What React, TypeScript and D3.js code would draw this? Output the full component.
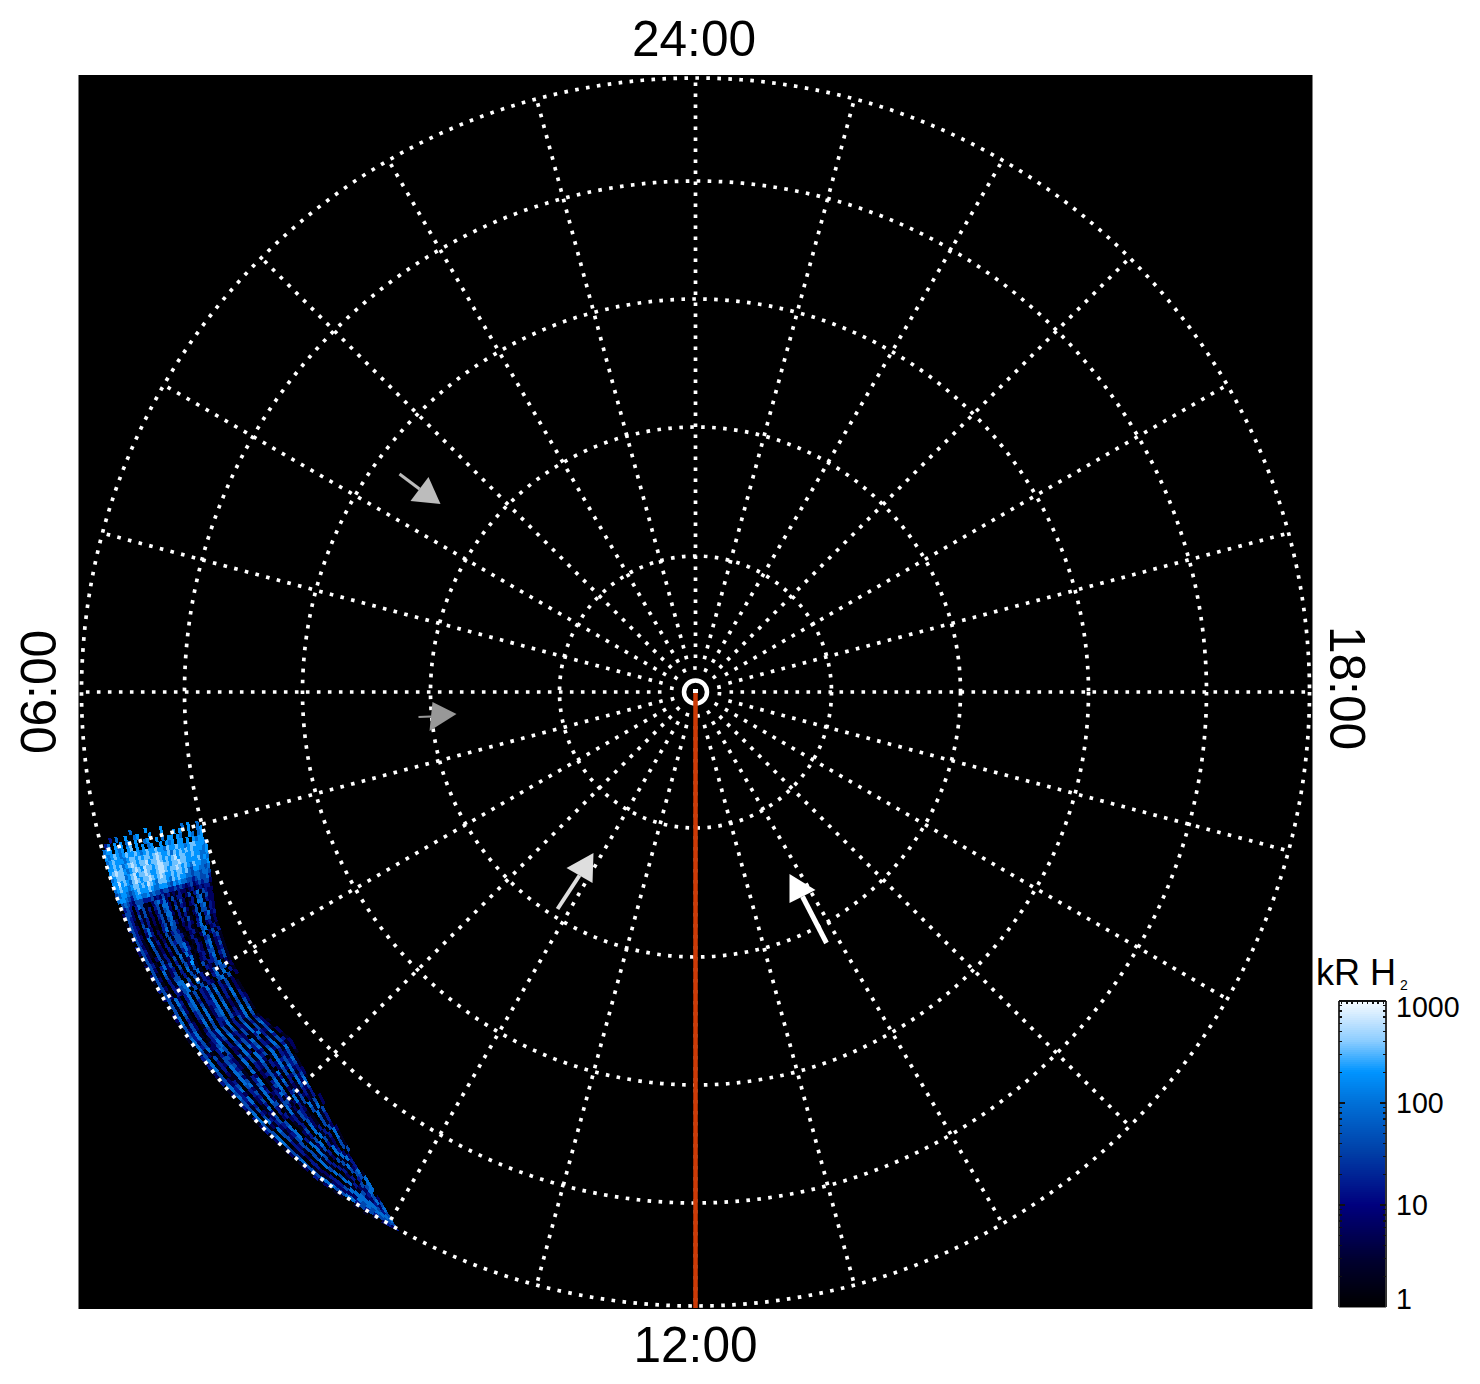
import React from "react";
import * as d3 from "d3";

// ---------- data (plot units: offsets from the pole, 1 unit = 1 pixel of the square map) ----------
const ringRadii = [24, 136, 265, 393, 511, 614];
const poleRingRadius = 11.5;
const hourSpokes = d3.range(0, 24);
const spokeInnerRadius = 34;
const dayMeridianEnd = 616;

const timeLabels = ["24:00", "12:00", "06:00", "18:00"];
const barTicks = [1, 10, 100, 1000];
const barMinor = [2, 3, 4, 5, 6, 7, 8, 9];
const barMin = 1;
const barMax = 1000;

const stopT = [0, 0.15, 0.333, 0.51, 0.667, 0.768, 0.87, 0.94, 1];
const stopColors = ["#000000", "#00002e", "#00007e", "#0040a8", "#0070d8", "#0094ff", "#8ccdff", "#c8e6ff", "#f8fcff"];

// kR value of each digit in the swath rows
const codeValues = [0, 2, 6, 15, 40, 90, 200, 350, 600, 850];

// swath outline, row index -> outer edge and inner edge
const edgeRows = [0, 12, 21, 31, 43, 53, 65, 75, 85, 93];
const outerX = [-598, -579, -563, -539, -509, -476, -433, -383, -333, -296];
const outerY = [142, 208, 251, 298, 348, 391, 438, 485, 521, 540];
const innerX = [-491, -484, -479, -464, -434, -403, -378, -351, -321, -296];
const innerY = [128, 185, 225, 268, 320, 348, 395, 448, 498, 540];

const swathRows = [
  "00000000005000060000600000050600500",
  "00030500600560006000600060600600560",
  "03506060560600560060506606500650560",
  "56606560670606056006065606606065660",
  "65676567667656766766576676656776665",
  "56766656776767767876675767676766656",
  "66767567876778677876767867766766556",
  "67877656787687767887767787766667565",
  "56777567867787667887677876765766556",
  "66867657876778767876676776754665545",
  "56766567767687657776576766554554554",
  "45665456766676556665465655443454453",
  "56654356655645443443343432342343442",
  "04543244433342324231213221231232331",
  "034303541102453520413302403514322",
  "24420314130341552031420130451422",
  "04320414120241452041320230551322",
  "1431031302034155203042014045032",
  "3432041302024145103131024044132",
  "043103520103415420314102503523",
  "243202530203514410213203504412",
  "04310512020413431023103502312",
  "3421051302041443102310450231",
  "2431041203043442013102502413",
  "042104120304145201310340341",
  "142024130204135310320451231",
  "24310413040515301320350241",
  "04203524030412510231440231",
  "2410512304042610230350341",
  "1420412403051410413340241",
  "041031440304151032145021",
  "34203155040413102414402",
  "04103245530513203515031",
  "2420324504141320451402",
  "041520351403251403140200",
  "141530350403241503240210",
  "041420451303250403150210",
  "240520450413350413050310",
  "250410340512350512040320",
  "150310341512451502140420",
  "041420251502450413150410",
  "042420150403340423250510",
  "143510241403251304250400",
  "153510342504150314140310",
  "152401342514140325131420",
  "053412352405231425041521",
  "141522451305132415241420",
  "342103540314242013532410",
  "250413140225042514031502",
  "350314430215153403141302",
  "151324320415203513251401",
  "240305421524052304150431",
  "140215321504153405240312",
  "342115410403252015031512",
  "052315210513241305132402",
  "153405413202140325342401",
  "243504513502341025143510",
  "053213214501042514253410",
  "143503415201351304052310",
  "342512315302451503241320",
  "241302405123250413052420",
  "051401305213540212152510",
  "350321504413130342142500",
  "150412303214420513032400",
  "240532403015312514231300",
  "341213402315120314021300",
  "14052340231432051402",
  "25041250131431041502",
  "0504235013042105140",
  "1403145024052104130",
  "2413240313051304130",
  "041314051405130420",
  "15020405250413052",
  "24030415140312051",
  "0413051413052041",
  "3412051302053041",
  "151204130415204",
  "25130503141520",
  "0523040315130",
  "1423051204230",
  "142415130450",
  "0525130341",
  "052512405",
  "13554245",
  "04452355",
  "1355240",
  "0445352",
  "135424",
  "04535",
  "2454",
  "345",
  "24",
  "3",
];

// aurora-arrow markers: tail, head vertices, colour
const arrowTails = [[-296, -218], [-277, 25], [-138, 217], [131, 251]];
const arrowTips = [[-255, -188], [-239, 22], [-102, 161], [94, 182]];
const arrowLeftWing = [[-285, -191], [-266, 39], [-129, 176], [120, 198]];
const arrowRightWing = [[-267, -215], [-263, 10], [-103, 191], [94, 211]];
const arrowColors = ["#bcbcbc", "#989898", "#dedede", "#ffffff"];
const arrowWidths = [3, 2, 4, 5];

// ---------- layout ----------
const W = 1480;
const H = 1384;
const mapLeft = 78.5;
const mapTop = 75;
const mapSize = 1234;
const barLeft = 1339;
const barRight = 1386;

const x = d3.scaleLinear().domain([-617, 617]).range([mapLeft, mapLeft + mapSize]);
const y = d3.scaleLinear().domain([-617, 617]).range([mapTop, mapTop + mapSize]);
const len = (v: number) => x(v) - x(0);

const barY = d3.scaleLog().domain([barMin, barMax]).range([1307, 1001]);
const tOf = d3.scaleLog().domain([barMin, barMax]).range([0, 1]).clamp(true);
const ramp = d3.scaleLinear<string>().domain(stopT).range(stopColors).interpolate(d3.interpolateRgb);
const colorOf = (v: number) => ramp(tOf(v));

const rowOX = d3.scaleLinear().domain(edgeRows).range(outerX);
const rowOY = d3.scaleLinear().domain(edgeRows).range(outerY);
const rowIX = d3.scaleLinear().domain(edgeRows).range(innerX);
const rowIY = d3.scaleLinear().domain(edgeRows).range(innerY);

function swathPaths() {
  const paths = codeValues.map(() => d3.path());
  swathRows.forEach((row, r) => {
    const n = row.length;
    for (let i = 0; i < n; i++) {
      const code = +row[i];
      if (!code) continue;
      const at = (rr: number, t: number): [number, number] => [
        x(rowOX(rr) + (rowIX(rr) - rowOX(rr)) * t),
        y(rowOY(rr) + (rowIY(rr) - rowOY(rr)) * t),
      ];
      const a = at(r, i / n);
      const b = at(r, (i + 1) / n);
      const c = at(r + 1, (i + 1) / n);
      const d = at(r + 1, i / n);
      const p = paths[code];
      p.moveTo(a[0], a[1]);
      p.lineTo(b[0], b[1]);
      p.lineTo(c[0], c[1]);
      p.lineTo(d[0], d[1]);
      p.closePath();
    }
  });
  return paths.map((p, i) => ({ d: p.toString(), fill: colorOf(codeValues[i]), code: i })).filter((p) => p.code > 0);
}

const barSteps = d3.range(0, 153).map((i) => barMin * Math.pow(barMax / barMin, i / 153));
const FONT = "'Liberation Sans', Arial, Helvetica, sans-serif";
const dots = { stroke: "#fff", strokeWidth: 3.7, strokeDasharray: "3.6 7.4", fill: "none" };

export default function App() {
  const lineSeg = d3.line();
  const hourAngle = (h: number) => (h / 24) * 2 * Math.PI;
  const minorTicks = barTicks.slice(0, -1).flatMap((d) => barMinor.map((m) => d * m));
  const topTicks = d3.range(0, 9);
  return (
    <svg width={W} height={H} style={{ position: "absolute", left: 0, top: 0, background: "#fff" }} fontFamily={FONT}>
      <rect x={x(-617)} y={y(-617)} width={mapSize} height={mapSize} fill="#000" />

      <g shapeRendering="crispEdges">
        {swathPaths().map((p) => (
          <path key={p.code} d={p.d} fill={p.fill} />
        ))}
      </g>

      {ringRadii.map((r) => (
        <circle key={r} cx={x(0)} cy={y(0)} r={len(r)} {...dots} />
      ))}
      {hourSpokes.map((h) => {
        const a = hourAngle(h);
        const s = Math.sin(a);
        const c = Math.cos(a);
        return (
          <path
            key={h}
            d={lineSeg([
              [x(spokeInnerRadius * s), y(-spokeInnerRadius * c)],
              [x(ringRadii[5] * s), y(-ringRadii[5] * c)],
            ]) as string}
            {...dots}
          />
        );
      })}
      <circle cx={x(0)} cy={y(0)} r={len(poleRingRadius)} fill="none" stroke="#fff" strokeWidth={4.5} />
      <line x1={x(0)} x2={x(0)} y1={y(0)} y2={y(dayMeridianEnd)} stroke="#cc3a06" strokeWidth={4.5} />
      <rect x={x(0) - 2.5} y={y(0) - 3} width={5} height={4} fill="#fff" />

      {arrowTails.map((t, i) => {
        const tip = arrowTips[i];
        const l = arrowLeftWing[i];
        const rw = arrowRightWing[i];
        const base: [number, number] = [(l[0] + rw[0]) / 2, (l[1] + rw[1]) / 2];
        return (
          <g key={i}>
            <line x1={x(t[0])} y1={y(t[1])} x2={x(base[0])} y2={y(base[1])} stroke={arrowColors[i]} strokeWidth={arrowWidths[i]} />
            <path
              d={(lineSeg([tip, l, rw].map((p) => [x(p[0]), y(p[1])] as [number, number])) as string) + "Z"}
              fill={arrowColors[i]}
            />
          </g>
        );
      })}

      <g fontSize={49.6} fill="#000" textAnchor="middle">
        <text x={694} y={56}>{timeLabels[0]}</text>
        <text x={695.5} y={1362}>{timeLabels[1]}</text>
        <text transform="translate(56,692) rotate(-90)">{timeLabels[2]}</text>
        <text transform="translate(1330,688) rotate(90)">{timeLabels[3]}</text>
      </g>

      <g shapeRendering="crispEdges">
        {barSteps.map((v, i) => (
          <rect
            key={i}
            x={barLeft}
            width={barRight - barLeft}
            y={barY(v * Math.pow(barMax / barMin, 1 / 153))}
            height={barY(v) - barY(v * Math.pow(barMax / barMin, 1 / 153)) + 1}
            fill={colorOf(v)}
          />
        ))}
        <line x1={barLeft} x2={barLeft} y1={barY(barMax)} y2={barY(barMin)} stroke="#333" strokeWidth={2} />
        <line x1={barRight} x2={barRight} y1={barY(barMax)} y2={barY(barMin)} stroke="#333" strokeWidth={2} />
        <line x1={barLeft} x2={barRight} y1={barY(barMax)} y2={barY(barMax)} stroke="#111" strokeWidth={2} />
        <line x1={barLeft} x2={barRight} y1={barY(barMin)} y2={barY(barMin)} stroke="#888" strokeWidth={1} />
        {minorTicks.map((v) => (
          <g key={v} stroke="#111" strokeWidth={1.5}>
            <line x1={barLeft} x2={barLeft + 3} y1={barY(v)} y2={barY(v)} />
            <line x1={barRight - 3} x2={barRight} y1={barY(v)} y2={barY(v)} />
          </g>
        ))}
        {barTicks.slice(1, -1).map((v) => (
          <g key={v} stroke="#111" strokeWidth={1.5}>
            <line x1={barLeft} x2={barLeft + 6} y1={barY(v)} y2={barY(v)} />
            <line x1={barRight - 6} x2={barRight} y1={barY(v)} y2={barY(v)} />
          </g>
        ))}
        {topTicks.map((k) => {
          const tx = barLeft + ((barRight - barLeft) * (k + 0.5)) / 9;
          return <line key={k} x1={tx} x2={tx} y1={barY(barMax)} y2={barY(barMax) + 3} stroke="#111" strokeWidth={1.5} />;
        })}
      </g>

      <g fontSize={28.6} fill="#000">
        {barTicks.map((v) => (
          <text key={v} x={1396} y={barY(v) + (v === 1000 ? 16 : v === 1 ? 2 : 10)}>{v}</text>
        ))}
      </g>
      <text x={1316} y={985} fontSize={36} fill="#000">kR H</text>
      <text x={1400} y={990} fontSize={14} fill="#000">2</text>
    </svg>
  );
}
